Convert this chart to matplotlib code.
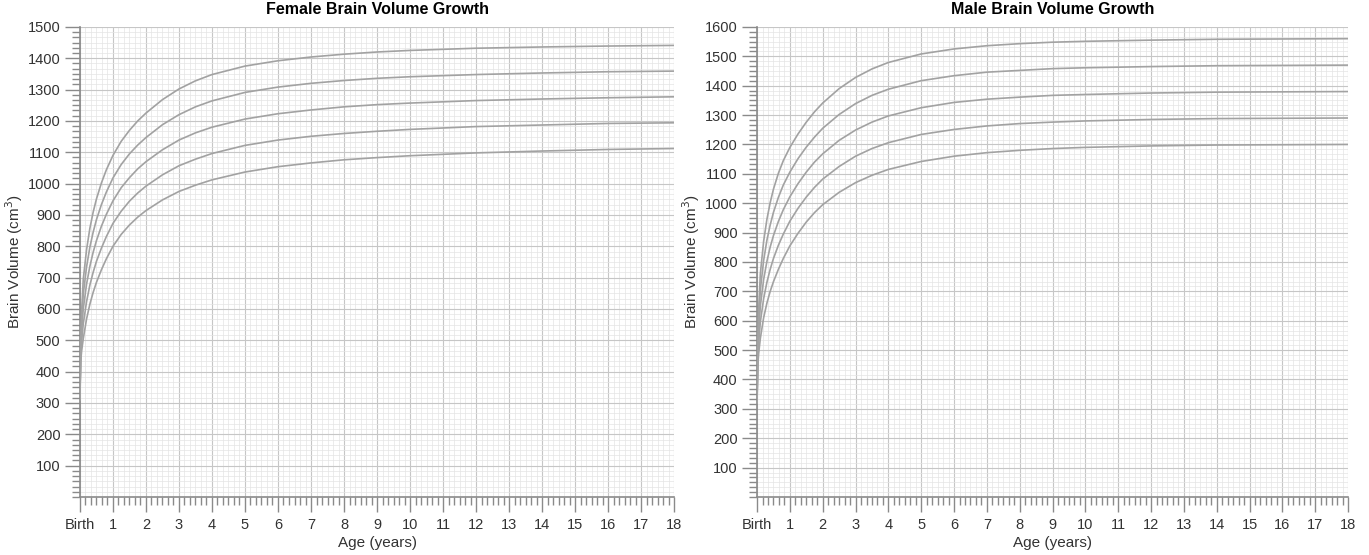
import matplotlib
matplotlib.use("Agg")
import matplotlib.pyplot as plt
from matplotlib.ticker import AutoMinorLocator

plt.rcParams["font.family"] = ["Liberation Sans", "DejaVu Sans"]

AGES = [0, 0.02, 0.05, 0.1, 0.2, 0.3, 0.4, 0.5, 0.65, 0.8, 1, 1.25, 1.5, 1.75, 2,
        2.5, 3, 3.5, 4, 5, 6, 7, 8, 9, 10, 12, 14, 16, 18]

# female brain volume curves (cm3), top to bottom
F_1 = [330, 470, 590, 694, 789, 857, 909, 951, 1002, 1044, 1090, 1135, 1170, 1200, 1225,
       1268, 1302, 1328, 1348, 1375, 1392, 1404, 1413, 1420, 1425, 1432, 1436, 1439, 1441]
F_2 = [325, 460, 559, 647, 734, 797, 845, 885, 933, 973, 1018, 1061, 1095, 1123, 1147,
       1188, 1220, 1245, 1264, 1291, 1308, 1320, 1329, 1336, 1341, 1348, 1353, 1357, 1359]
F_3 = [320, 450, 528, 600, 679, 736, 781, 818, 864, 902, 945, 987, 1019, 1047, 1070,
       1108, 1139, 1162, 1180, 1206, 1223, 1235, 1245, 1252, 1257, 1265, 1270, 1274, 1277]
F_4 = [315, 440, 496, 552, 623, 676, 717, 752, 794, 831, 873, 912, 944, 970, 992,
       1028, 1057, 1078, 1096, 1122, 1139, 1151, 1160, 1167, 1173, 1182, 1187, 1192, 1194]
F_5 = [310, 430, 465, 505, 568, 615, 653, 685, 725, 760, 800, 838, 868, 893, 914,
       948, 975, 995, 1012, 1037, 1054, 1066, 1076, 1083, 1089, 1098, 1104, 1109, 1112]

# male brain volume curves (cm3), top to bottom
M_1 = [340, 500, 640, 760, 870, 945, 1002, 1048, 1102, 1145, 1190, 1236, 1276, 1311, 1341,
       1390, 1428, 1457, 1479, 1508, 1525, 1536, 1543, 1548, 1551, 1555, 1558, 1559, 1560]
M_2 = [335, 486, 602, 705, 805, 874, 926, 969, 1020, 1062, 1106, 1152, 1191, 1225, 1255,
       1302, 1339, 1367, 1388, 1417, 1434, 1446, 1452, 1458, 1461, 1465, 1468, 1469, 1470]
M_3 = [330, 472, 565, 650, 740, 802, 851, 890, 938, 978, 1022, 1067, 1106, 1140, 1168,
       1214, 1249, 1276, 1297, 1325, 1343, 1354, 1361, 1367, 1370, 1375, 1378, 1379, 1380]
M_4 = [325, 459, 527, 595, 675, 731, 775, 812, 857, 895, 939, 983, 1021, 1054, 1082,
       1125, 1160, 1186, 1206, 1234, 1251, 1263, 1271, 1276, 1280, 1285, 1288, 1289, 1290]
M_5 = [320, 445, 490, 540, 610, 660, 700, 733, 775, 812, 855, 898, 936, 968, 995,
       1037, 1070, 1095, 1115, 1142, 1160, 1172, 1180, 1186, 1190, 1195, 1198, 1199, 1200]

X_TICKS = list(range(0, 19))
X_LABELS = ["Birth"] + [str(i) for i in range(1, 19)]

AXIS_GRAY = "#8a8a8a"
TEXT_COLOR = "#333333"


def draw_panel(ax, curves, ymax, title):
    for ys in curves:
        ax.plot(AGES, ys, color="#a2a2a2", linewidth=1.2, zorder=3)

    ax.set_xlim(0, 18)
    ax.set_ylim(0, ymax)
    ax.set_xticks(X_TICKS)
    ax.set_xticklabels(X_LABELS)
    ax.xaxis.set_minor_locator(AutoMinorLocator(6))
    yt = list(range(100, ymax + 1, 100))
    ax.set_yticks(yt)
    ax.set_yticklabels([str(v) for v in yt])
    ax.yaxis.set_minor_locator(AutoMinorLocator(6))

    ax.grid(which="major", color="#c6c6c6", linewidth=0.8)
    ax.grid(which="minor", color="#e4e4e4", linewidth=0.5)
    ax.set_axisbelow(True)

    for side in ["top", "right"]:
        ax.spines[side].set_visible(False)
    for side in ["left", "bottom"]:
        ax.spines[side].set_color(AXIS_GRAY)
        ax.spines[side].set_linewidth(1.2)

    ax.tick_params(which="major", length=11, width=1.0, color=AXIS_GRAY,
                   labelsize=10.5, labelcolor=TEXT_COLOR, pad=3)
    ax.tick_params(which="minor", length=5.5, width=1.0, color=AXIS_GRAY)
    ax.tick_params(axis="x", which="major", pad=4)

    ax.set_title(title, fontsize=11.5, fontweight="bold", pad=9)
    ax.set_xlabel("Age (years)", fontsize=11, color=TEXT_COLOR, labelpad=3)
    ax.set_ylabel("Brain Volume (cm$^3$)", fontsize=11, color=TEXT_COLOR, labelpad=2)


fig = plt.figure(figsize=(13.69, 5.55), dpi=100)
ax_f = fig.add_axes([0.0584, 0.1045, 0.434, 0.847])
ax_m = fig.add_axes([0.553, 0.1045, 0.4317, 0.847])

draw_panel(ax_f, [F_1, F_2, F_3, F_4, F_5], 1500, "Female Brain Volume Growth")
draw_panel(ax_m, [M_1, M_2, M_3, M_4, M_5], 1600, "Male Brain Volume Growth")

fig.savefig("out.png", dpi=100)
